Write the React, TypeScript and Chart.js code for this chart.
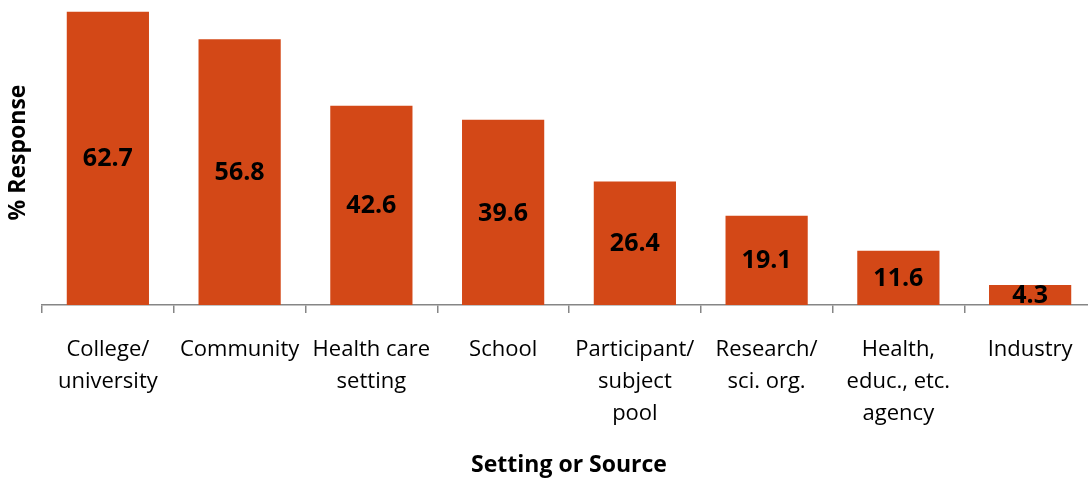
import React, { useEffect, useRef } from "react";
import { Chart, registerables } from "chart.js";

Chart.register(...registerables);

const categories: string[][] = [
  ["College/", "university"],
  ["Community"],
  ["Health care", "setting"],
  ["School"],
  ["Participant/", "subject", "pool"],
  ["Research/", "sci. org."],
  ["Health,", "educ., etc.", "agency"],
  ["Industry"],
];
const values: number[] = [62.7, 56.8, 42.6, 39.6, 26.4, 19.1, 11.6, 4.3];
const yTitle = "% Response";
const xTitle = "Setting or Source";

const FONT = "'Open Sans', 'Noto Sans', sans-serif";

const valueLabels = {
  id: "valueLabels",
  afterDatasetsDraw(chart: any) {
    const ctx = chart.ctx;
    const meta = chart.getDatasetMeta(0);
    ctx.save();
    ctx.font = `bold 25px ${FONT}`;
    ctx.fillStyle = "#000";
    ctx.textAlign = "center";
    ctx.textBaseline = "middle";
    meta.data.forEach((bar: any, i: number) => {
      const { x, y, base } = bar.getProps(["x", "y", "base"], true);
      ctx.fillText(values[i].toFixed(1), x, (y + base) / 2 + 1);
    });
    ctx.restore();
  },
};

export default function App() {
  const ref = useRef<HTMLCanvasElement>(null);
  useEffect(() => {
    if (!ref.current) return;
    const chart = new Chart(ref.current, {
      type: "bar",
      data: {
        labels: categories,
        datasets: [
          {
            data: values,
            backgroundColor: "#D34817",
            categoryPercentage: 1,
            barPercentage: 0.624,
          },
        ],
      },
      options: {
        responsive: false,
        animation: false,
        layout: { padding: { left: 0, right: 4, top: 0, bottom: 0 } },
        plugins: { legend: { display: false }, tooltip: { enabled: false } },
        scales: {
          x: {
            grid: {
              offset: true,
              drawOnChartArea: false,
              drawTicks: true,
              tickLength: 8,
              color: "#868686",
              lineWidth: 1.5,
            },
            border: { display: true, color: "#868686", width: 1.5 },
            ticks: {
              color: "#000",
              font: { family: FONT, size: 22, lineHeight: 1.45 },
              maxRotation: 0,
              autoSkip: false,
              padding: 21,
            },
            title: {
              display: true,
              text: xTitle,
              color: "#000",
              font: { family: FONT, size: 23, weight: "bold" },
              padding: { top: 4, bottom: 2 },
            },
            afterFit: (s: any) => {
              s.height = 176;
            },
          },
          y: {
            min: 0,
            max: 65.2,
            grid: { display: false },
            border: { display: false },
            ticks: { display: false },
            title: {
              display: true,
              text: yTitle,
              color: "#000",
              font: { family: FONT, size: 23, weight: "bold" },
              padding: { top: 5, bottom: 0 },
            },
            afterFit: (s: any) => {
              s.width = 42;
            },
          },
        },
      },
      plugins: [valueLabels],
    });
    return () => chart.destroy();
  }, []);
  return (
    <div
      style={{
        position: "fixed",
        left: 0,
        top: 0,
        width: 1088,
        height: 481,
        overflow: "hidden",
        background: "#fff",
      }}
    >
      <canvas ref={ref} width={1100} height={481} style={{ width: 1100, height: 481 }} />
    </div>
  );
}
